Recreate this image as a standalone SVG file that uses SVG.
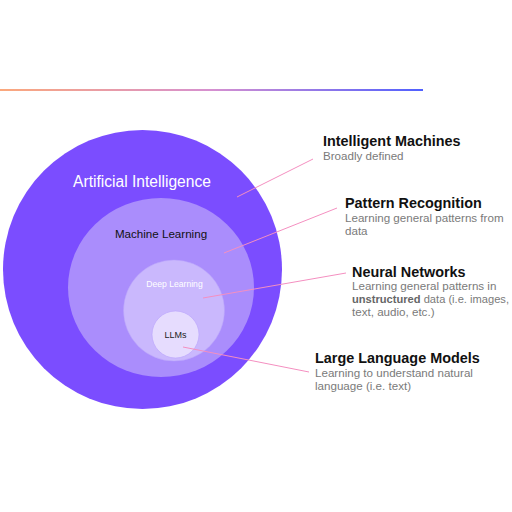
<svg xmlns="http://www.w3.org/2000/svg" width="512" height="512" viewBox="0 0 512 512">
<defs>
<linearGradient id="g" x1="0" y1="0" x2="1" y2="0">
<stop offset="0" stop-color="#fba87c"/>
<stop offset="0.5" stop-color="#d690d0"/>
<stop offset="1" stop-color="#5060ff"/>
</linearGradient>
</defs>
<style>
text{font-family:"Liberation Sans",Arial,sans-serif}
.t{font-weight:bold;font-size:14.4px;fill:#111}
.s{font-size:11.6px;fill:#7a7a7a}
.c{stroke:#f48fc0;stroke-width:1;fill:none}
</style>
<rect width="512" height="512" fill="#fff"/>
<rect x="0" y="89" width="423" height="2" fill="url(#g)"/>
<g id="ai"><circle cx="142.5" cy="269.5" r="139.5" fill="#7b4dff"/>
<text x="142" y="187" font-size="15.6" fill="#fff" text-anchor="middle">Artificial Intelligence</text></g>
<g id="ml"><ellipse cx="161" cy="287.5" rx="93" ry="89.5" fill="#aa8dfc"/>
<text x="161" y="238" font-size="11.6" fill="#111" text-anchor="middle">Machine Learning</text></g>
<g id="dl"><circle cx="174" cy="310.5" r="50.5" fill="#cab8fd" stroke="#b9a2fb" stroke-width="0.5"/>
<text x="174.5" y="287" font-size="8.6" fill="#fff" text-anchor="middle">Deep Learning</text></g>
<g id="llm"><circle cx="175.5" cy="334.5" r="23.5" fill="#e6dcfe" stroke="#b9a2fb" stroke-width="0.6"/>
<text x="175.5" y="337.5" font-size="9" fill="#222" text-anchor="middle">LLMs</text></g>
<g id="connectors">
<line class="c" x1="237" y1="197" x2="313" y2="159"/>
<line class="c" x1="224" y1="253" x2="337" y2="208"/>
<line class="c" x1="203" y1="298" x2="346" y2="273"/>
<line class="c" x1="183" y1="347" x2="309" y2="372"/>
</g>
<g id="label-im">
<text class="t" x="323" y="146">Intelligent Machines</text>
<text class="s" x="323" y="160">Broadly defined</text></g>
<g id="label-pr">
<text class="t" x="345" y="208">Pattern Recognition</text>
<text class="s" x="345" y="222">Learning general patterns from</text>
<text class="s" x="345" y="235">data</text></g>
<g id="label-nn">
<text class="t" x="352" y="277">Neural Networks</text>
<text class="s" x="352" y="290">Learning general patterns in</text>
<text class="s" x="352" y="303" textLength="157" lengthAdjust="spacingAndGlyphs"><tspan font-weight="bold" fill="#666">unstructured</tspan> data (i.e. images,</text>
<text class="s" x="352" y="316">text, audio, etc.)</text></g>
<g id="label-llm">
<text class="t" x="315" y="363">Large Language Models</text>
<text class="s" x="315" y="377">Learning to understand natural</text>
<text class="s" x="315" y="390">language (i.e. text)</text></g>
</svg>
